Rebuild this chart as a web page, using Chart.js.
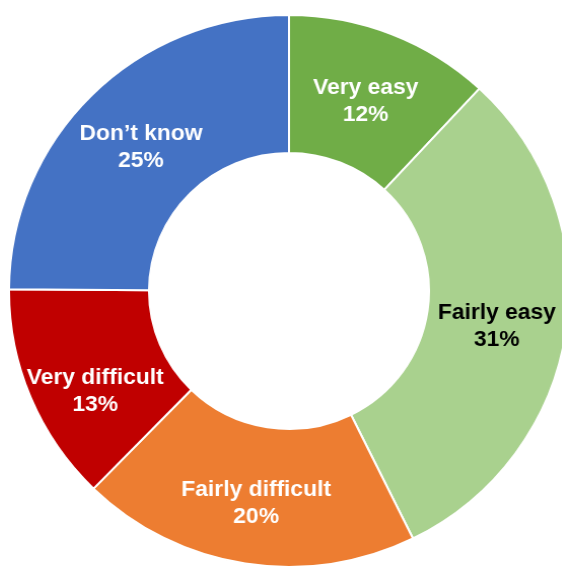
<!DOCTYPE html>
<html>
<head>
<meta charset="utf-8">
<script src="https://cdn.jsdelivr.net/npm/chart.js@4"></script>
<style>
  html, body { margin: 0; padding: 0; background: #fff; }
  #wrap { position: relative; width: 562px; height: 570px; overflow: hidden; }
  /* the reference ring is a touch wider than tall */
  #wrap canvas { position: absolute; left: 12px; top: 14px; transform: scaleX(1.0145); transform-origin: 50% 50%; }
</style>
</head>
<body>
<div id="wrap"><canvas id="donut" width="554" height="554"></canvas></div>
<script>
const categories = ["Very easy", "Fairly easy", "Fairly difficult", "Very difficult", "Don\u2019t know"];
const shares = [11.9, 30.8, 19.6, 12.8, 24.9];
const shownPct = [12, 31, 20, 13, 25];
const colours = ["#70AD47", "#A9D18E", "#ED7D31", "#C00000", "#4472C4"];
const textColours = ["#fff", "#000", "#fff", "#fff", "#fff"];

const sliceLabels = {
  id: "sliceLabels",
  afterDatasetsDraw(chart, args, opts) {
    const ctx = chart.ctx;
    const meta = chart.getDatasetMeta(0);
    ctx.save();
    ctx.font = "bold 22.5px 'Liberation Sans', Arial, sans-serif";
    ctx.textAlign = "center";
    ctx.textBaseline = "middle";
    meta.data.forEach(function (arc, i) {
      const p = arc.tooltipPosition();
      const y = p.y + 3 + (opts.shiftY[i] || 0);
      ctx.fillStyle = textColours[i];
      ctx.fillText(categories[i], p.x, y - 13.5);
      ctx.fillText(shownPct[i] + "%", p.x, y + 13.5);
    });
    ctx.restore();
  }
};

new Chart(document.getElementById("donut"), {
  type: "doughnut",
  data: {
    labels: categories,
    datasets: [{
      data: shares,
      backgroundColor: colours,
      borderColor: "#fff",
      borderWidth: 2
    }]
  },
  options: {
    responsive: false,
    animation: false,
    cutout: "50%",
    plugins: {
      legend: { display: false },
      tooltip: { enabled: false },
      sliceLabels: { shiftY: [0, 2, 5, 17, 0] }
    }
  },
  plugins: [sliceLabels]
});
</script>
</body>
</html>
